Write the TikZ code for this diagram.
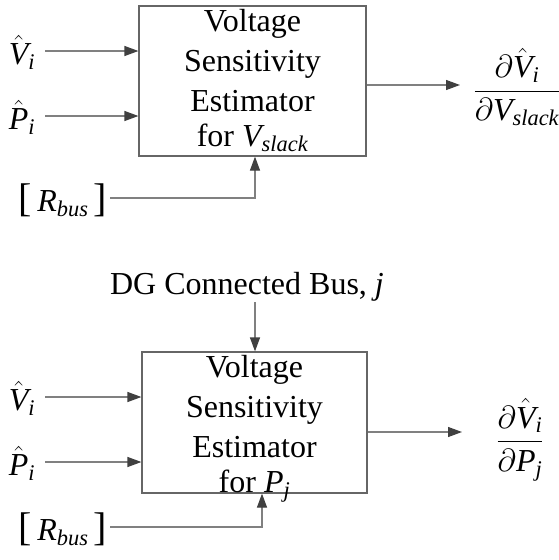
\documentclass[tikz,border=0pt]{standalone}
\usepackage{fix-cm}
\usepackage{fontspec}
\setmainfont{Liberation Serif}
\usepackage{amsmath}
\usetikzlibrary{arrows.meta}
\newcommand\mi[1]{\text{\itshape #1}}
\newcommand\bigbr[1]{{\fontsize{40}{40}\selectfont #1}}
\begin{document}
\begin{tikzpicture}[x=1pt,y=-1pt,
  blk/.style={draw=black!60, line width=1.2pt, inner sep=0pt},
  blktxt/.style={inner sep=0pt, anchor=north, align=center,
    font=\fontsize{32}{40}\selectfont},
  conn/.style={draw=black!50, line width=1.2pt,
    -{Triangle[length=14pt,width=10pt,color=black!75]}},
  lbl/.style={inner sep=0pt, font=\fontsize{32}{40}\selectfont}]
\useasboundingbox[fill=white] (0,0) rectangle (558,560);

% ---------- upper block ----------
\node[blk, minimum width=227pt, minimum height=150pt] (b1) at (252.5,81) {};
\node[blktxt] (b1t) at ([yshift=-4pt]b1.north)
  {Voltage\\Sensitivity\\Estimator\\[-5pt]for $\mi{V}_{\mi{slack}}$};
\node[lbl] (v1) at (22,52) {$\hat{\mi{V}}_{\mi{i}}$};
\node[lbl] (p1) at (22,117) {$\hat{\mi{P}}_{\mi{i}}$};
\node[lbl] (r1) at (63,200) {\bigbr{[}\,$\mi{R}_{\mi{bus}}$\,\bigbr{]}};
\node[lbl] (f1) at (517,87) {$\dfrac{\partial\hat{\mi{V}}_{\mi{i}}}{\partial\mi{V}_{\mi{slack}}}$};
\coordinate (v1s) at (45,51);
\coordinate (p1s) at (45,116);
\coordinate (r1s) at (110,198);
\coordinate (o1) at (460,85);
\draw[conn] (v1s) -- (v1s -| b1.west);
\draw[conn] (p1s) -- (p1s -| b1.west);
\draw[conn] (r1s) -| ([xshift=2.5pt]b1.south);
\draw[conn] (b1.east |- o1) -- (o1);

% ---------- lower block ----------
\node[lbl] (dg) at (247,287) {DG Connected Bus, \textit{j}};
\node[blk, minimum width=225pt, minimum height=141pt] (b2) at (254.5,422.5) {};
\node[blktxt] (b2t) at ([yshift=-4pt]b2.north)
  {Voltage\\Sensitivity\\Estimator\\[-5pt]for $\mi{P}_{\mi{j}}$};
\node[lbl] (v2) at (22,398) {$\hat{\mi{V}}_{\mi{i}}$};
\node[lbl] (p2) at (22,463) {$\hat{\mi{P}}_{\mi{i}}$};
\node[lbl] (r2) at (63,529) {\bigbr{[}\,$\mi{R}_{\mi{bus}}$\,\bigbr{]}};
\node[lbl] (f2) at (520,440) {$\dfrac{\partial\hat{\mi{V}}_{\mi{i}}}{\partial\mi{P}_{\mi{j}}}$};
\coordinate (dgs) at (255,302);
\coordinate (v2s) at (45,397);
\coordinate (p2s) at (45,462);
\coordinate (r2s) at (110,527);
\coordinate (o2) at (462,432);
\draw[conn] (dgs) -- (dgs |- b2.north);
\draw[conn] (v2s) -- (v2s -| b2.west);
\draw[conn] (p2s) -- (p2s -| b2.west);
\draw[conn] (r2s) -| ([xshift=7.5pt]b2.south);
\draw[conn] (b2.east |- o2) -- (o2);
\end{tikzpicture}
\end{document}
